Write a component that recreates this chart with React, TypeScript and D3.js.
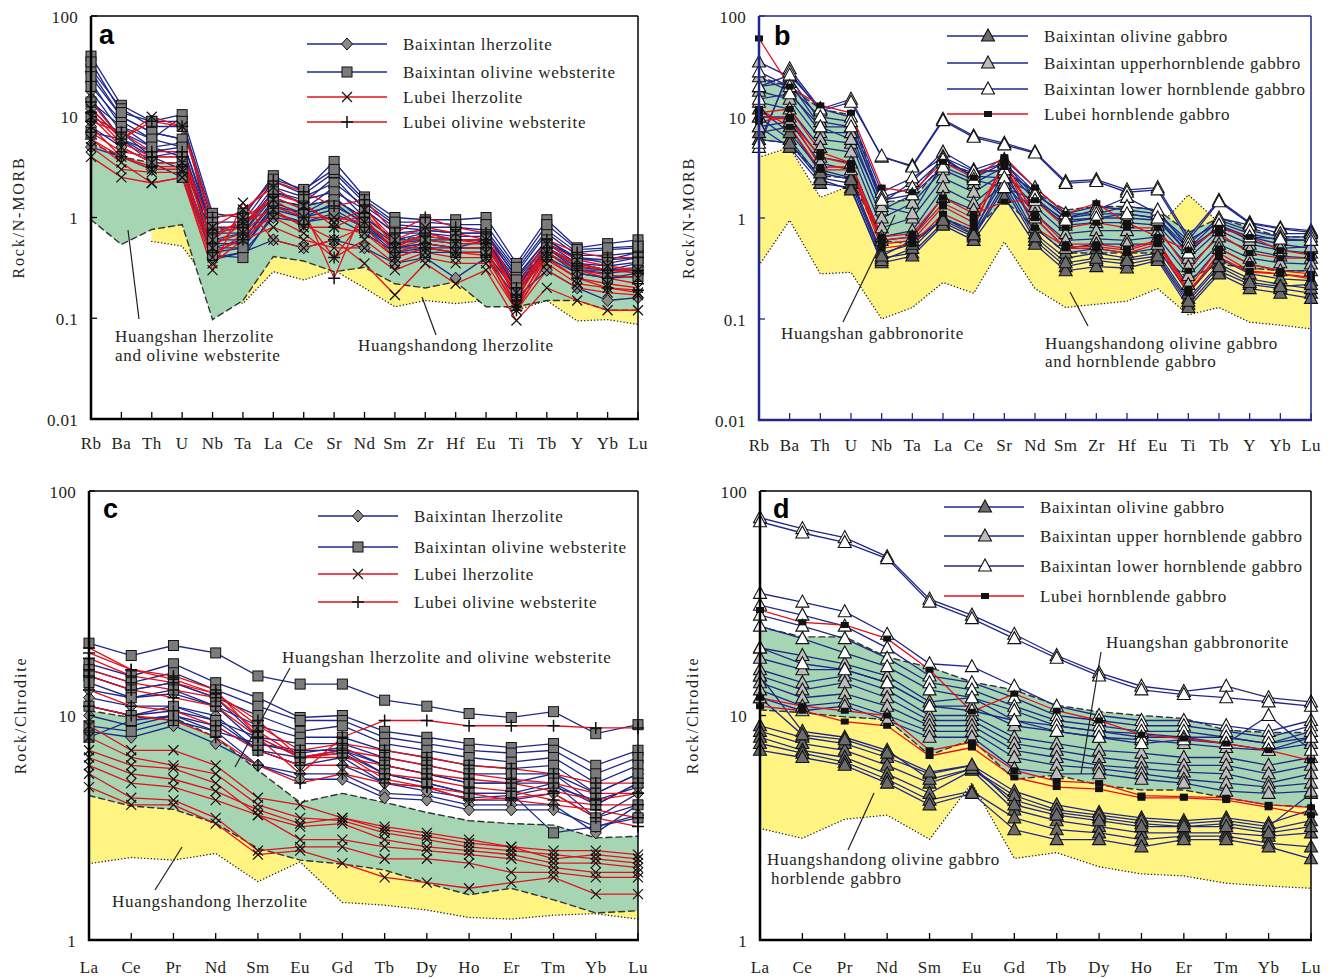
import React from "react";
import * as d3 from "d3";

// ---------- categories & ticks ----------
const spiderEls = ["Rb","Ba","Th","U","Nb","Ta","La","Ce","Sr","Nd","Sm","Zr","Hf","Eu","Ti","Tb","Y","Yb","Lu"];
const reeEls = ["La","Ce","Pr","Nd","Sm","Eu","Gd","Tb","Dy","Ho","Er","Tm","Yb","Lu"];
const spiderTicks = [0.01, 0.1, 1, 10, 100];
const spiderTickLabels = ["0.01", "0.1", "1", "10", "100"];
const reeTicks = [1, 10, 100];
const reeTickLabels = ["1", "10", "100"];

// ---------- panel a (N-MORB normalised, ultramafic) ----------
const aBxLherzolite = [
  [22, 8, 6, 10, 0.6, 0.7, 1.6, 1.2, 2.0, 1.0, 0.6, 0.7, 0.6, 0.6, 0.22, 0.55, 0.4, 0.35, 0.4],
  [18, 7, 5, 5.5, 0.5, 0.6, 1.4, 1.1, 1.6, 0.9, 0.55, 0.6, 0.55, 0.55, 0.2, 0.5, 0.35, 0.3, 0.35],
  [12, 6, 4, 4.5, 0.45, 0.5, 1.2, 1.0, 1.2, 0.8, 0.5, 0.55, 0.5, 0.5, 0.2, 0.45, 0.3, 0.28, 0.3],
  [8, 5, 3.5, 3.5, 0.4, 0.45, 1.0, 0.9, 1.0, 0.7, 0.45, 0.5, 0.45, 0.45, 0.18, 0.4, 0.28, 0.25, 0.28],
  [5, 4, 3, 3, 0.38, 0.45, 0.6, 0.5, 0.6, 0.5, 0.35, 0.4, 0.25, 0.4, 0.16, 0.3, 0.2, 0.15, 0.16],
  [28, 10, 7, 6, 0.7, 0.8, 1.8, 1.4, 2.5, 1.2, 0.7, 0.75, 0.7, 0.7, 0.25, 0.6, 0.4, 0.38, 0.45],
  [15, 6, 4.5, 5, 0.55, 0.55, 1.3, 1.0, 1.4, 0.85, 0.5, 0.55, 0.5, 0.6, 0.2, 0.5, 0.32, 0.3, 0.32],
];
const aBxWebsterite = [
  [40, 13, 9, 10.5, 1.1, 1.0, 2.6, 1.8, 3.6, 1.6, 1.0, 0.95, 0.95, 1.0, 0.35, 0.95, 0.5, 0.55, 0.6],
  [30, 12, 8, 8, 0.9, 0.9, 2.3, 1.7, 2.8, 1.4, 0.85, 0.8, 0.8, 0.75, 0.3, 0.75, 0.45, 0.48, 0.5],
  [25, 10, 7, 6, 0.8, 0.8, 2.0, 1.6, 2.2, 1.3, 0.8, 0.75, 0.7, 0.7, 0.28, 0.7, 0.42, 0.42, 0.45],
  [20, 9, 6, 5, 0.7, 0.7, 1.8, 1.5, 1.8, 1.2, 0.7, 0.7, 0.65, 0.65, 0.26, 0.6, 0.38, 0.38, 0.4],
  [14, 8, 5, 4, 0.6, 0.6, 1.5, 1.3, 1.5, 1.0, 0.6, 0.6, 0.6, 0.6, 0.24, 0.55, 0.35, 0.33, 0.36],
  [10, 7, 4, 3, 0.5, 0.5, 1.3, 1.1, 1.3, 0.9, 0.5, 0.5, 0.5, 0.5, 0.2, 0.5, 0.3, 0.3, 0.3],
  [35, 11, 9, 9, 1.0, 1.1, 2.4, 1.9, 3.0, 1.5, 0.9, 0.9, 0.85, 0.85, 0.32, 0.85, 0.48, 0.5, 0.52],
  [7, 6, 3.5, 2.5, 0.42, 0.4, 1.1, 0.9, 1.1, 0.8, 0.45, 0.45, 0.45, 0.45, 0.18, 0.45, 0.28, 0.25, 0.26],
];
const aLbLherzolite = [
  [4, 2.5, 2.2, 2.5, 0.3, 1.4, 0.6, 0.5, 0.6, 0.35, 0.17, 0.35, 0.22, 0.3, 0.095, 0.2, 0.15, 0.12, 0.12],
  [6, 3.5, 2.2, 2.5, 0.35, 0.6, 0.8, 0.6, 0.5, 0.5, 0.3, 0.4, 0.35, 0.35, 0.12, 0.3, 0.2, 0.18, 0.17],
  [8, 4, 3, 3, 0.5, 0.9, 1.2, 0.8, 0.8, 0.7, 0.4, 0.5, 0.45, 0.45, 0.14, 0.4, 0.25, 0.22, 0.2],
  [10, 5, 3.5, 3.5, 0.6, 1.0, 1.5, 1.0, 1.0, 0.9, 0.5, 0.6, 0.55, 0.55, 0.16, 0.45, 0.3, 0.27, 0.25],
  [12, 6, 10, 8, 0.8, 1.2, 2.0, 1.3, 0.9, 1.2, 0.6, 0.8, 0.7, 0.6, 0.18, 0.55, 0.38, 0.33, 0.3],
  [5, 3, 2.8, 2.8, 0.4, 0.7, 1.0, 0.7, 0.4, 0.6, 0.35, 0.45, 0.4, 0.4, 0.13, 0.35, 0.22, 0.2, 0.18],
];
const aLbWebsterite = [
  [14, 6, 9, 8, 1.0, 1.1, 2.3, 1.8, 1.3, 1.5, 0.7, 1.0, 0.8, 0.7, 0.2, 0.6, 0.45, 0.4, 0.4],
  [9, 7, 4.5, 4.5, 0.7, 0.8, 1.6, 1.2, 0.25, 1.3, 0.5, 0.7, 0.6, 0.6, 0.15, 0.5, 0.35, 0.3, 0.28],
  [7, 4.5, 4, 4, 0.55, 0.7, 1.3, 1.0, 0.4, 1.0, 0.45, 0.55, 0.5, 0.5, 0.13, 0.45, 0.3, 0.25, 0.22],
  [11, 5.5, 4, 4, 0.75, 0.85, 1.7, 1.4, 0.8, 1.1, 0.55, 0.65, 0.6, 0.55, 0.17, 0.5, 0.33, 0.3, 0.3],
  [6, 4, 3.2, 3.2, 0.45, 0.6, 1.1, 0.85, 0.6, 0.8, 0.4, 0.5, 0.45, 0.42, 0.12, 0.38, 0.25, 0.2, 0.19],
];
const aGreenTop = [5.5, 4, 3.5, 3.5, 0.7, 0.9, 1.5, 1.3, 1.5, 1.0, 0.6, 0.65, 0.6, 0.6, 0.22, 0.5, 0.35, 0.3, 0.3];
const aGreenBottom = [0.95, 0.54, 0.76, 0.85, 0.097, 0.15, 0.41, 0.37, 0.29, 0.32, 0.22, 0.2, 0.23, 0.13, 0.13, 0.15, 0.15, 0.12, 0.12];
const aYellowTop = [null, null, 0.8, 0.85, 0.3, 0.4, 0.45, 0.4, 0.35, 0.35, 0.3, 0.3, 0.3, 0.2, 0.15, 0.2, 0.18, 0.15, 0.14];
const aYellowBottom = [null, null, 0.58, 0.52, 0.2, 0.14, 0.29, 0.24, 0.3, 0.2, 0.13, 0.15, 0.14, 0.15, 0.12, 0.15, 0.094, 0.097, 0.087];

// ---------- panel b (N-MORB normalised, gabbros) ----------
const bBxOlGabbro = [
  [10, 6, 2.5, 2.2, 0.4, 0.45, 0.9, 0.65, 2.0, 0.6, 0.33, 0.38, 0.35, 0.4, 0.14, 0.3, 0.22, 0.2, 0.18],
  [8, 5, 2.2, 2.0, 0.36, 0.42, 0.85, 0.6, 1.6, 0.55, 0.3, 0.33, 0.32, 0.38, 0.13, 0.28, 0.2, 0.18, 0.16],
  [6, 5.5, 2.4, 1.9, 0.38, 0.5, 1.0, 0.75, 2.5, 0.7, 0.4, 0.45, 0.4, 0.45, 0.16, 0.35, 0.25, 0.22, 0.2],
  [12, 7, 3.0, 2.5, 0.45, 0.55, 1.0, 0.7, 3.0, 0.8, 0.45, 0.5, 0.45, 0.5, 0.18, 0.4, 0.28, 0.25, 0.24],
  [7, 8, 2.8, 2.4, 0.42, 0.6, 0.95, 0.68, 2.2, 0.65, 0.36, 0.4, 0.38, 0.42, 0.15, 0.33, 0.23, 0.21, 0.22],
];
const bBxUpperHbGabbro = [
  [35, 25, 9, 8, 1.4, 2.3, 4.5, 3.0, 3.8, 2.0, 1.1, 1.3, 1.2, 1.1, 0.6, 0.9, 0.7, 0.6, 0.6],
  [25, 18, 7, 7, 1.2, 1.7, 4.0, 2.5, 3.5, 1.8, 1.0, 1.1, 1.1, 1.0, 0.5, 0.8, 0.65, 0.55, 0.5],
  [18, 15, 6, 5.5, 1.0, 1.4, 3.0, 2.2, 3.2, 1.5, 0.85, 0.9, 0.9, 0.85, 0.4, 0.75, 0.55, 0.48, 0.45],
  [14, 12, 5, 4.5, 0.8, 1.0, 2.5, 1.8, 2.8, 1.3, 0.7, 0.75, 0.75, 0.75, 0.33, 0.65, 0.48, 0.42, 0.4],
  [10, 10, 4, 3.5, 0.65, 0.75, 2.0, 1.4, 2.5, 1.1, 0.6, 0.62, 0.6, 0.65, 0.27, 0.55, 0.4, 0.36, 0.35],
  [20, 22, 8, 6, 1.3, 1.1, 3.5, 2.8, 3.5, 1.6, 0.9, 1.0, 1.0, 0.95, 0.45, 0.85, 0.6, 0.5, 0.52],
  [8, 9, 3.5, 3, 0.6, 0.65, 1.6, 1.2, 2.2, 1.0, 0.5, 0.55, 0.55, 0.55, 0.22, 0.5, 0.35, 0.3, 0.3],
];
const bBxLowerHbGabbro = [
  [5, 30, 12, 15, 4.0, 3.3, 9.5, 6.5, 5.5, 4.5, 2.3, 2.4, 1.9, 2.0, 0.65, 1.5, 0.9, 0.8, 0.75],
  [5.5, 28, 11.5, 14, 4.1, 3.2, 9.2, 6.3, 5.3, 4.4, 2.2, 2.3, 1.8, 1.9, 0.6, 1.45, 0.88, 0.78, 0.72],
  [20, 26, 12, 10, 1.8, 2.5, 4.0, 2.9, 3.0, 1.8, 1.0, 1.2, 1.6, 1.1, 0.55, 1.0, 0.85, 0.7, 0.7],
  [28, 20, 10, 9, 1.6, 2.0, 3.8, 2.6, 2.5, 1.7, 1.1, 1.1, 1.3, 1.2, 0.5, 0.95, 0.75, 0.65, 0.65],
  [15, 17, 8, 8, 1.5, 1.7, 3.2, 2.4, 2.0, 1.5, 0.95, 1.0, 1.1, 1.0, 0.45, 0.85, 0.65, 0.62, 0.6],
];
const bLbHbGabbro = [
  [60, 20, 13, 11, 2.0, 1.8, 3.6, 2.5, 4.0, 2.0, 1.1, 1.4, 0.9, 0.65, 0.48, 0.8, 0.65, 0.48, 0.43],
  [11, 12, 4.5, 3.5, 0.6, 0.65, 1.4, 1.0, 3.5, 0.8, 0.52, 0.52, 0.48, 0.58, 0.19, 0.41, 0.29, 0.28, 0.26],
  [9, 10, 3.2, 3.2, 0.55, 0.6, 1.3, 0.9, 3.2, 1.1, 0.55, 0.55, 0.5, 0.6, 0.2, 0.5, 0.35, 0.3, 0.28],
  [12, 8, 3.0, 3.0, 0.5, 0.55, 1.1, 0.8, 3.8, 1.0, 0.5, 0.5, 0.45, 0.55, 0.18, 0.45, 0.3, 0.28, 0.25],
  [10, 9.5, 4.0, 3.4, 0.65, 0.7, 1.6, 1.1, 1.45, 1.5, 0.8, 0.9, 0.8, 0.8, 0.3, 0.7, 0.45, 0.4, 0.4],
];
const bGreenTop = [25, 20, 12, 10.5, 1.45, 1.5, 3.5, 2.8, 3.0, 1.8, 1.2, 1.3, 1.3, 1.2, 0.72, 1.0, 0.8, 0.65, 0.65];
const bGreenBottom = [6, 5.5, 2.6, 2.5, 0.6, 0.55, 1.0, 0.75, 1.5, 0.8, 0.45, 0.45, 0.45, 0.45, 0.25, 0.35, 0.32, 0.3, 0.3];
const bYellowTop = [4, 5, 1.6, 2.1, 0.8, 0.9, 1.5, 1.2, 1.6, 1.0, 0.6, 0.7, 0.7, 0.8, 1.7, 0.9, 0.6, 0.5, 0.5];
const bYellowBottom = [0.34, 0.95, 0.28, 0.29, 0.1, 0.13, 0.23, 0.18, 0.58, 0.2, 0.13, 0.14, 0.15, 0.2, 0.11, 0.13, 0.093, 0.087, 0.08];

// ---------- panel c (chondrite normalised, ultramafic) ----------
const cBxLherzolite = [
  [15, 13, 14, 12, 8, 6.5, 7, 5.5, 5, 4.5, 4.5, 5, 4, 5],
  [12, 11, 11, 10, 7, 6, 6.5, 5, 4.8, 4.2, 4.2, 4.5, 3.5, 4.5],
  [10, 9, 10, 8.5, 6, 5.5, 5.5, 4.5, 4.4, 4, 4, 4, 3, 4],
  [8.5, 8, 9, 7.5, 6, 5.2, 5.2, 4.3, 4.2, 3.8, 3.8, 3.8, 3.2, 3.6],
  [13, 12, 12.5, 11, 7.5, 6.8, 7.2, 6, 5.5, 5, 5, 5.5, 4.5, 5.5],
  [11, 10, 10.5, 9.5, 7, 6, 6, 5, 4.6, 4.3, 4.4, 4.8, 4.2, 4.8],
];
const cBxWebsterite = [
  [21, 18.5, 20.5, 19, 15, 13.8, 13.8, 11.7, 11, 10.2, 9.8, 10.4, 8.3, 9.1],
  [17, 15, 17, 14, 12, 9.8, 10, 8.5, 8, 7.5, 7.2, 7.5, 6, 7],
  [16, 14, 15.5, 13, 11, 9.5, 9.5, 8, 7.5, 7, 6.8, 7, 5.5, 6.5],
  [15, 13, 14, 12, 10, 8.5, 9, 7.5, 7, 6.5, 6.2, 6.5, 5, 6],
  [14, 12, 13, 11, 9, 8, 8, 7, 6.5, 6, 5.8, 6, 4.5, 5.5],
  [11, 10, 11, 9.5, 8, 7.5, 7.5, 6.5, 6, 5.5, 5.5, 5.5, 4, 5],
  [9, 8.5, 9.5, 8.5, 7.5, 7, 7, 6, 5.5, 5, 5, 5, 3.5, 4],
  [8, 9.5, 10, 9, 7, 6.5, 6.8, 5.5, 5, 4.5, 4.5, 3, 3.2, 3.5],
];
const cLbLherzolite = [
  [9, 7, 7, 6, 4.3, 4, 3.5, 3.2, 3, 2.8, 2.6, 2.5, 2.5, 2.4],
  [8, 6.5, 6, 5.5, 4, 3.5, 3.4, 3, 2.8, 2.6, 2.5, 2.4, 2.3, 2.2],
  [7, 6, 5.8, 5, 3.6, 3.2, 3.3, 2.8, 2.6, 2.5, 2.4, 2.2, 2.2, 2.1],
  [6, 5, 4.8, 4.2, 3.6, 2.8, 2.8, 2.6, 2.5, 2.4, 2.3, 2.1, 2.0, 2.0],
  [5.5, 4.3, 4.2, 3.5, 2.5, 2.6, 2.6, 2.3, 2.3, 2.2, 2.0, 2.0, 1.9, 1.9],
  [4.8, 4.0, 4.0, 3.3, 2.4, 2.5, 2.2, 1.9, 1.8, 1.7, 1.8, 1.9, 1.6, 1.6],
  [6.5, 5.5, 5.2, 4.6, 3.8, 3.3, 3.5, 3.1, 2.9, 2.7, 2.6, 2.3, 2.4, 2.3],
];
const cLbWebsterite = [
  [20, 16, 15, 13, 8, 5.5, 8, 9.5, 9.5, 9, 9, 9, 8.8, 8.8],
  [18, 15, 14, 12.5, 9, 7, 7.5, 7, 6.5, 6, 5.8, 5.5, 5, 5],
  [16, 14, 13, 12, 8.5, 6.5, 7, 6.5, 6, 5.5, 5.2, 5, 4.5, 4.5],
  [15, 13, 12, 11, 8, 6.5, 6.5, 6, 5.5, 5.2, 5, 4.6, 4.2, 4.5],
  [13, 11, 10.5, 9, 7, 6, 6, 5.5, 5.2, 4.8, 4.6, 4.2, 4, 4],
  [11, 10, 9.5, 8, 6, 5, 5.5, 5, 4.8, 4.5, 4.2, 4, 3.8, 3.5],
  [19, 16, 14.5, 12.5, 9.5, 6.5, 6.8, 5.2, 4.8, 4.2, 4.3, 4.5, 3.5, 3.2],
];
const cGreenTop = [10.5, 9.8, 9.8, 8, 5.7, 4.1, 4.5, 4.1, 3.7, 3.4, 3.3, 3.25, 2.85, 2.9];
const cGreenBottom = [4.4, 3.95, 3.82, 3.31, 2.56, 2.27, 2.18, 2.05, 1.79, 1.59, 1.7, 1.51, 1.32, 1.35];
const cYellowTop = [4.6, 4.1, 4.0, 3.5, 2.7, 2.4, 2.3, 2.1, 1.85, 1.65, 1.75, 1.55, 1.36, 1.4];
const cYellowBottom = [2.19, 2.33, 2.27, 2.43, 1.82, 2.23, 1.47, 1.43, 1.36, 1.26, 1.24, 1.29, 1.31, 1.24];

// ---------- panel d (chondrite normalised, gabbros) ----------
const dBxOlGabbro = [
  [9, 8, 7.5, 6.5, 5.5, 6, 4.6, 4, 3.7, 3.5, 3.4, 3.5, 3.3, 3.8],
  [8.5, 7.5, 7, 6, 5, 5.8, 4.2, 3.7, 3.5, 3.3, 3.2, 3.3, 3.1, 3.4],
  [8, 7, 6.5, 5.5, 4.5, 5.7, 3.8, 3.4, 3.2, 3.0, 3.0, 3.0, 2.9, 3.0],
  [7.5, 6.8, 6.2, 5.2, 4.2, 4.6, 3.5, 3.1, 3.0, 2.8, 2.9, 2.9, 2.7, 2.6],
  [7, 6.5, 6, 5, 4.0, 4.5, 3.1, 2.8, 2.8, 2.6, 2.8, 2.8, 2.6, 2.3],
  [15, 8.5, 8, 7, 5.2, 5.8, 4.4, 3.8, 3.6, 3.4, 3.3, 3.4, 3.2, 4.5],
  [12, 8.2, 7.8, 6.8, 5.6, 6, 4, 3.6, 3.4, 3.2, 3.2, 3.2, 3.0, 3.2],
];
const dBxUpperHbGabbro = [
  [20, 18.5, 17, 15, 11.5, 12, 9.5, 9, 8.5, 8.3, 8, 8, 7.5, 8],
  [18, 16, 16, 14, 11, 11, 9, 8.5, 8, 7.8, 7.5, 7.2, 7, 7.5],
  [16, 14, 15, 13, 10, 10, 8, 7.5, 7, 6.8, 6.5, 6.5, 6, 6.5],
  [15, 13, 14, 12, 9.5, 9.5, 7.5, 7, 6.5, 6.2, 6, 6, 5.5, 6],
  [14, 12, 12.5, 11, 9, 9, 7, 6.5, 6, 5.8, 5.6, 5.5, 5, 5.5],
  [13, 11, 11.5, 10, 8.5, 8.5, 6.5, 6, 5.8, 5.5, 5.2, 5, 4.8, 5],
  [12, 10.5, 11, 9.5, 8, 8, 5.8, 5.5, 5.5, 5.2, 5, 4.6, 4.5, 4.6],
];
const dBxLowerHbGabbro = [
  [76, 68, 62, 51, 33, 28, 23, 18.5, 15.5, 13.5, 12.8, 13.5, 12, 11.5],
  [73, 65, 59, 50, 32, 27, 22, 18, 15, 13, 12.4, 12, 11.5, 11],
  [35, 32, 29, 23, 17, 16.5, 13.5, 11, 10, 9.5, 9.5, 9, 8.5, 9.5],
  [31, 28, 25, 20, 15, 14, 12, 10, 9.5, 9, 9, 8.5, 8, 9],
  [28, 25, 22, 18, 14, 13, 11, 9.5, 9, 8.5, 8.5, 8, 7.5, 8.5],
  [25, 22, 19, 16.5, 13, 12, 10.5, 9, 8.5, 8, 8, 7.5, 7, 8],
  [20, 17, 16, 14, 11, 10.5, 9.5, 8.5, 8, 7.5, 7.8, 7.5, 10, 7],
];
const dLbHbGabbro = [
  [29.5, 26, 25.3, 22, 16, 10.4, 12.5, 10.5, 9.5, 8.2, 7.9, 7.5, 7.0, 6.3],
  [12, 11, 10.5, 10, 7.0, 7.6, 5.7, 5.1, 5.0, 4.4, 4.35, 4.3, 4.0, 3.9],
  [11, 10.5, 9.4, 9.0, 6.6, 7.2, 5.3, 4.8, 4.7, 4.3, 4.3, 4.2, 3.9, 3.6],
];
const dGreenTop = [24.8, 22.4, 22.4, 18.2, 16.4, 14.1, 13, 11.1, 10.4, 10, 9.7, 8.6, 8.4, 8.4];
const dGreenBottom = [10.6, 10.3, 9.86, 9.6, 6.67, 7.8, 5.2, 5.43, 4.9, 4.66, 4.66, 4.3, 3.99, 3.92];
const dYellowTop = [10.6, 10.3, 9.9, 9.6, 6.8, 7.9, 5.3, 5.5, 5.0, 4.7, 4.7, 4.35, 4.0, 3.95];
const dYellowBottom = [3.14, 2.84, 3.45, 3.6, 2.81, 5.0, 2.31, 2.45, 2.12, 1.97, 1.93, 1.79, 1.74, 1.7];

// ---------- styles ----------
const NAVY = "#1f2889";
const RED = "#e3101b";
const INK = "#231f20";
const GREEN = "#a6d5b3";
const YELLOW = "#fff382";
const SERIF = "'Liberation Serif', 'Times New Roman', serif";
const SANS = "'Liberation Sans', Arial, sans-serif";

type MarkerKind = "diamond" | "square" | "cross" | "plus" | "triDark" | "triLight" | "triOpen" | "smallSquare";

function Marker({ kind, x, y }: { kind: MarkerKind; x: number; y: number }) {
  const tri = `M${x},${y - 7}L${x + 6.5},${y + 5}L${x - 6.5},${y + 5}Z`;
  switch (kind) {
    case "diamond":
      return <path d={`M${x},${y - 6}L${x + 5.5},${y}L${x},${y + 6}L${x - 5.5},${y}Z`} fill="#8a8a8a" stroke="#111" strokeWidth={1} />;
    case "square":
      return <rect x={x - 5} y={y - 5} width={10} height={10} fill="#7b7b7b" stroke="#111" strokeWidth={1} />;
    case "cross":
      return <path d={`M${x - 5},${y - 5}L${x + 5},${y + 5}M${x - 5},${y + 5}L${x + 5},${y - 5}`} stroke="#111" strokeWidth={1.2} fill="none" />;
    case "plus":
      return <path d={`M${x - 6},${y}L${x + 6},${y}M${x},${y - 6}L${x},${y + 6}`} stroke="#111" strokeWidth={1.5} fill="none" />;
    case "triDark":
      return <path d={tri} fill="#6c6c6c" stroke="#111" strokeWidth={1.1} />;
    case "triLight":
      return <path d={tri} fill="#bcbcbc" stroke="#111" strokeWidth={1.1} />;
    case "triOpen":
      return <path d={tri} fill="#fff" stroke="#111" strokeWidth={1.1} />;
    case "smallSquare":
      return <rect x={x - 4} y={y - 3} width={8} height={6} fill="#111" />;
  }
  return null;
}

type Envelope = { top: (number | null)[]; bottom: (number | null)[]; fill: string; dash: string; outline: string };
type SeriesDef = { rows: number[][]; color: string; marker: MarkerKind };
type Annot = { x: number; y: number; text: string };
type LegendItem = { label: string; color: string; marker: MarkerKind };

type PanelProps = {
  left: number; right: number; top: number; bottom: number;
  cats: string[]; ticks: number[]; tickLabels: string[]; domain: [number, number];
  frame: string; letter: string; letterX: number; letterY: number;
  ylabel: string; ylabelX: number; catLabelY: number;
  envelopes: Envelope[]; series: SeriesDef[];
  legend: LegendItem[]; legendRows: number[]; legendLine: [number, number]; legendMarkerX: number; legendTextX: number;
  legendSpacing: number;
  annots: Annot[]; leaders: [number, number, number, number][];
};

function Panel(p: PanelProps) {
  const x = d3.scalePoint<string>().domain(p.cats).range([p.left, p.right]);
  const y = d3.scaleLog().domain(p.domain).range([p.bottom, p.top]);
  const idx = p.cats.map((_, i) => i);
  const line = d3.line<number>().x((_, i) => x(p.cats[i])!).y((v) => y(v));

  return (
    <g>
      {p.envelopes.map((e, k) => {
        const area = d3.area<number>()
          .defined((i) => e.top[i] != null && e.bottom[i] != null)
          .x((i) => x(p.cats[i])!)
          .y0((i) => y(e.bottom[i] as number))
          .y1((i) => y(e.top[i] as number));
        const edge = (arr: (number | null)[]) =>
          d3.line<number>().defined((i) => arr[i] != null).x((i) => x(p.cats[i])!).y((i) => y(arr[i] as number))(idx) || "";
        return (
          <g key={"env" + k}>
            <path d={area(idx) || ""} fill={e.fill} stroke="none" />
            <path d={edge(e.top)} fill="none" stroke={e.outline} strokeWidth={1.4} strokeDasharray={e.dash} strokeLinecap="round" />
            <path d={edge(e.bottom)} fill="none" stroke={e.outline} strokeWidth={1.4} strokeDasharray={e.dash} strokeLinecap="round" />
          </g>
        );
      })}
      {p.series.map((s, k) => (
        <g key={"l" + k}>
          {s.rows.map((r, j) => (
            <path key={j} d={line(r) || ""} fill="none" stroke={s.color} strokeWidth={1.3} />
          ))}
        </g>
      ))}
      {p.series.map((s, k) => (
        <g key={"m" + k}>
          {s.rows.map((r, j) =>
            r.map((v, i) => <Marker key={j + "-" + i} kind={s.marker} x={x(p.cats[i])!} y={y(v)} />)
          )}
        </g>
      ))}
      {p.leaders.map((l, k) => (
        <line key={"ld" + k} x1={l[0]} y1={l[1]} x2={l[2]} y2={l[3]} stroke={INK} strokeWidth={1.2} />
      ))}
      {p.annots.map((a, k) => (
        <text key={"an" + k} x={a.x} y={a.y} dominantBaseline="central" fontFamily={SERIF} fontSize={17} letterSpacing={0.7} fill={INK}>{a.text}</text>
      ))}
      {p.legend.map((it, k) => (
        <g key={"lg" + k}>
          <line x1={p.legendLine[0]} x2={p.legendLine[1]} y1={p.legendRows[k]} y2={p.legendRows[k]} stroke={it.color} strokeWidth={1.6} />
          <Marker kind={it.marker} x={p.legendMarkerX} y={p.legendRows[k]} />
          <text x={p.legendTextX} y={p.legendRows[k]} dominantBaseline="central" fontFamily={SERIF} fontSize={17} letterSpacing={p.legendSpacing} fill={INK}>{it.label}</text>
        </g>
      ))}
      <line x1={p.left} x2={p.right} y1={p.top} y2={p.top} stroke={p.frame} strokeWidth={1.5} />
      <line x1={p.right} x2={p.right} y1={p.top} y2={p.bottom} stroke={p.frame} strokeWidth={1.5} />
      <line x1={p.left} x2={p.left} y1={p.top} y2={p.bottom + 1} stroke={p.frame} strokeWidth={2.5} />
      <line x1={p.left - 1} x2={p.right + 1} y1={p.bottom} y2={p.bottom} stroke={p.frame} strokeWidth={2.5} />
      {p.cats.map((c) => (
        <line key={"xt" + c} x1={x(c)!} x2={x(c)!} y1={p.bottom} y2={p.bottom - 7} stroke={p.frame} strokeWidth={1.3} />
      ))}
      {p.cats.map((c) => (
        <text key={"xl" + c} x={x(c)!} y={p.catLabelY} textAnchor="middle" dominantBaseline="central" fontFamily={SERIF} fontSize={17} letterSpacing={0.4} fill={INK}>{c}</text>
      ))}
      {p.ticks.map((t, i) => (
        <g key={"yt" + t}>
          <line x1={p.left} x2={p.left + 6} y1={y(t)} y2={y(t)} stroke={p.frame} strokeWidth={1.3} />
          <text x={p.left - 13} y={y(t) + 1} textAnchor="end" dominantBaseline="central" fontFamily={SERIF} fontSize={17} letterSpacing={0.3} fill={INK}>{p.tickLabels[i]}</text>
        </g>
      ))}
      <text transform={`translate(${p.ylabelX},${(p.top + p.bottom) / 2}) rotate(-90)`} textAnchor="middle" dominantBaseline="central" fontFamily={SERIF} fontSize={16} letterSpacing={1.8} fill={INK}>{p.ylabel}</text>
      <text x={p.letterX} y={p.letterY} fontFamily={SANS} fontWeight="bold" fontSize={27} fill="#000">{p.letter}</text>
    </g>
  );
}

const ultraLegend: LegendItem[] = [
  { label: "Baixintan lherzolite", color: NAVY, marker: "diamond" },
  { label: "Baixintan olivine websterite", color: NAVY, marker: "square" },
  { label: "Lubei lherzolite", color: RED, marker: "cross" },
  { label: "Lubei olivine websterite", color: RED, marker: "plus" },
];

export default function App() {
  const greenEnv = (top: (number | null)[], bottom: (number | null)[]): Envelope => ({ top, bottom, fill: GREEN, dash: "6,4", outline: "#333" });
  const yellowEnv = (top: (number | null)[], bottom: (number | null)[]): Envelope => ({ top, bottom, fill: YELLOW, dash: "0.1,3.2", outline: "#222" });

  return (
    <svg width={1334} height={979} style={{ position: "absolute", left: 0, top: 0, background: "#fff" }}>
      <rect x={0} y={0} width={1334} height={979} fill="#fff" />
      <Panel
        left={91} right={638} top={16} bottom={419}
        cats={spiderEls} ticks={spiderTicks} tickLabels={spiderTickLabels} domain={[0.01, 100]}
        frame="#000" letter="a" letterX={99} letterY={44}
        ylabel="Rock/N-MORB" ylabelX={18} catLabelY={443}
        envelopes={[yellowEnv(aYellowTop, aYellowBottom), greenEnv(aGreenTop, aGreenBottom)]}
        series={[
          { rows: aBxLherzolite, color: NAVY, marker: "diamond" },
          { rows: aBxWebsterite, color: NAVY, marker: "square" },
          { rows: aLbLherzolite, color: RED, marker: "cross" },
          { rows: aLbWebsterite, color: RED, marker: "plus" },
        ]}
        legend={ultraLegend} legendRows={[44, 72, 97, 122]} legendLine={[307, 387]} legendMarkerX={347} legendTextX={403} legendSpacing={0.75}
        annots={[
          { x: 115, y: 336, text: "Huangshan lherzolite" },
          { x: 115, y: 355, text: "and olivine websterite" },
          { x: 358, y: 345, text: "Huangshandong lherzolite" },
        ]}
        leaders={[[128, 230, 139, 319], [422, 297, 436, 335]]}
      />
      <Panel
        left={759} right={1311} top={16} bottom={420}
        cats={spiderEls} ticks={spiderTicks} tickLabels={spiderTickLabels} domain={[0.01, 100]}
        frame={NAVY} letter="b" letterX={774} letterY={45}
        ylabel="Rock/N-MORB" ylabelX={688} catLabelY={445}
        envelopes={[yellowEnv(bYellowTop, bYellowBottom), greenEnv(bGreenTop, bGreenBottom)]}
        series={[
          { rows: bBxOlGabbro, color: NAVY, marker: "triDark" },
          { rows: bBxUpperHbGabbro, color: NAVY, marker: "triLight" },
          { rows: bBxLowerHbGabbro, color: NAVY, marker: "triOpen" },
          { rows: bLbHbGabbro, color: RED, marker: "smallSquare" },
        ]}
        legend={[
          { label: "Baixintan olivine gabbro", color: NAVY, marker: "triDark" },
          { label: "Baixintan upperhornblende gabbro", color: NAVY, marker: "triLight" },
          { label: "Baixintan lower hornblende gabbro", color: NAVY, marker: "triOpen" },
          { label: "Lubei hornblende gabbro", color: RED, marker: "smallSquare" },
        ]}
        legendRows={[36, 63, 89, 114]} legendLine={[947, 1028]} legendMarkerX={988} legendTextX={1044} legendSpacing={0.62}
        annots={[
          { x: 781, y: 333, text: "Huangshan gabbronorite" },
          { x: 1045, y: 343, text: "Huangshandong olivine gabbro" },
          { x: 1045, y: 361, text: "and hornblende gabbro" },
        ]}
        leaders={[[895, 215, 843, 322], [1070, 292, 1088, 326]]}
      />
      <Panel
        left={89} right={638} top={491} bottom={940}
        cats={reeEls} ticks={reeTicks} tickLabels={reeTickLabels} domain={[1, 100]}
        frame="#000" letter="c" letterX={103} letterY={518}
        ylabel="Rock/Chrodite" ylabelX={20} catLabelY={967}
        envelopes={[yellowEnv(cYellowTop, cYellowBottom), greenEnv(cGreenTop, cGreenBottom)]}
        series={[
          { rows: cBxLherzolite, color: NAVY, marker: "diamond" },
          { rows: cBxWebsterite, color: NAVY, marker: "square" },
          { rows: cLbLherzolite, color: RED, marker: "cross" },
          { rows: cLbWebsterite, color: RED, marker: "plus" },
        ]}
        legend={ultraLegend} legendRows={[516, 547, 574, 602]} legendLine={[318, 398]} legendMarkerX={358} legendTextX={414} legendSpacing={0.75}
        annots={[
          { x: 282, y: 657, text: "Huangshan lherzolite and olivine websterite" },
          { x: 112, y: 901, text: "Huangshandong lherzolite" },
        ]}
        leaders={[[290, 668, 235, 767], [182, 847, 155, 890]]}
      />
      <Panel
        left={760} right={1311} top={491} bottom={940}
        cats={reeEls} ticks={reeTicks} tickLabels={reeTickLabels} domain={[1, 100]}
        frame="#000" letter="d" letterX={773} letterY={518}
        ylabel="Rock/Chrodite" ylabelX={692} catLabelY={967}
        envelopes={[yellowEnv(dYellowTop, dYellowBottom), greenEnv(dGreenTop, dGreenBottom)]}
        series={[
          { rows: dBxOlGabbro, color: NAVY, marker: "triDark" },
          { rows: dBxUpperHbGabbro, color: NAVY, marker: "triLight" },
          { rows: dBxLowerHbGabbro, color: NAVY, marker: "triOpen" },
          { rows: dLbHbGabbro, color: RED, marker: "smallSquare" },
        ]}
        legend={[
          { label: "Baixintan olivine gabbro", color: NAVY, marker: "triDark" },
          { label: "Baixintan upper hornblende gabbro", color: NAVY, marker: "triLight" },
          { label: "Baixintan lower hornblende gabbro", color: NAVY, marker: "triOpen" },
          { label: "Lubei hornblende gabbro", color: RED, marker: "smallSquare" },
        ]}
        legendRows={[507, 536, 566, 596]} legendLine={[944, 1024]} legendMarkerX={985} legendTextX={1040} legendSpacing={0.65}
        annots={[
          { x: 1106, y: 642, text: "Huangshan gabbronorite" },
          { x: 767, y: 859, text: "Huangshandong olivine gabbro" },
          { x: 771, y: 878, text: "horblende gabbro" },
        ]}
        leaders={[[1101, 652, 1081, 774], [874, 793, 848, 850]]}
      />
    </svg>
  );
}
